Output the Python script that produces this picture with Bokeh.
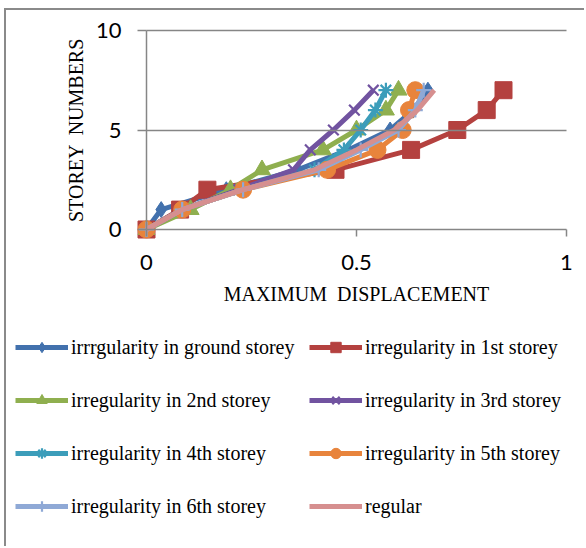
from bokeh.plotting import figure
from bokeh.models import Range1d, FixedTicker, Legend, LegendItem, LinearAxis
from bokeh.embed import file_html
from bokeh.resources import INLINE

storeys = [0, 1, 2, 3, 4, 5, 6, 7]
ground = [0, 0.035, 0.19, 0.36, 0.48, 0.58, 0.635, 0.67]
first = [0, 0.08, 0.145, 0.45, 0.63, 0.74, 0.81, 0.85]
second = [0, 0.105, 0.20, 0.275, 0.42, 0.50, 0.57, 0.60]
third = [0, 0.085, 0.22, 0.35, 0.39, 0.445, 0.495, 0.54]
fourth = [0, 0.085, 0.23, 0.40, 0.47, 0.51, 0.545, 0.57]
fifth = [0, 0.085, 0.23, 0.43, 0.55, 0.61, 0.625, 0.64]
sixth = [0, 0.085, 0.23, 0.41, 0.51, 0.60, 0.64, 0.66]
regular = [0, 0.085, 0.23, 0.40, 0.50, 0.59, 0.645, 0.685]

names = ["irrrgularity in ground storey", "irregularity in 1st storey",
         "irregularity in 2nd storey", "irregularity in 3rd storey",
         "irregularity in 4th storey", "irregularity in 5th storey",
         "irregularity in 6th storey", "regular"]
series = [ground, first, second, third, fourth, fifth, sixth, regular]
colors = ["#4271AD", "#B4413F", "#8FAF4F", "#7153A0", "#3C9DBA", "#E8843C", "#8FA9D6", "#D68F8F"]
markers = ["diamond", "square", "triangle", "x", "asterisk", "circle", "cross", None]
msizes = [16, 17, 17, 15, 15, 17, 15, 0]

x_ticks = [0, 0.5, 1]
y_ticks = [0, 5, 10]
grid_levels = [5, 10]

GRAY = "#868686"
W, H = 580, 538          # figure size (page offset 6, 10 from CSS margin+border)
OX, OY = 6, 10
X0_PX, X1_PX = 146, 566  # page px of x=0 and x=1
Y0_PX, Y10_PX = 229, 30  # page px of y=0 and y=10
sx = (X1_PX - X0_PX) / 1.0
sy = (Y0_PX - Y10_PX) / 10.0

p = figure(width=W, height=H, output_backend="svg", toolbar_location=None,
           x_axis_location=None, y_axis_location=None,
           x_range=Range1d((OX - X0_PX) / sx, (OX + W - X0_PX) / sx),
           y_range=Range1d((Y0_PX - (OY + H)) / sy, (Y0_PX - OY) / sy),
           min_border=0,
           background_fill_color="white", border_fill_color="white", outline_line_color=None,
           styles={"border-left": "2px solid #8a8a8a", "border-top": "2px solid #8a8a8a",
                   "margin-left": "4px", "margin-top": "8px"})
p.grid.visible = False

def style_axis(ax):
    ax.axis_line_color = GRAY
    ax.axis_line_width = 1.5
    ax.major_tick_line_color = GRAY
    ax.major_tick_line_width = 1.5
    ax.minor_tick_line_color = None
    ax.major_tick_in = 0
    ax.major_label_text_font = "Lato"
    ax.major_label_text_font_size = "22px"
    ax.major_label_text_color = "black"
    ax.axis_label_text_font = "Liberation Serif"
    ax.axis_label_text_font_size = "20px"
    ax.axis_label_text_font_style = "normal"
    ax.axis_label_text_color = "black"

# horizontal gridlines drawn as bare axes across 0..1
for lvl in grid_levels:
    g = LinearAxis(fixed_location=lvl, bounds=(0, 1), ticker=FixedTicker(ticks=[]),
                   major_tick_out=0, major_tick_in=0, minor_tick_out=0, minor_tick_in=0)
    style_axis(g)
    g.major_label_text_font_size = "0px"
    p.add_layout(g, "below")

xax = LinearAxis(fixed_location=0, bounds=(0, 1), ticker=FixedTicker(ticks=x_ticks))
style_axis(xax)
xax.major_label_overrides = {0: "0", 0.5: "0.5", 1: "1"}
xax.major_tick_out = 7
xax.major_label_standoff = 18
xax.axis_label = "MAXIMUM \u00a0DISPLACEMENT"
xax.axis_label_standoff = 10
p.add_layout(xax, "below")

yax = LinearAxis(fixed_location=0, bounds=(0, 10), ticker=FixedTicker(ticks=y_ticks))
style_axis(yax)
yax.major_tick_out = 9
yax.major_label_standoff = 16
yax.axis_label = "STOREY \u00a0NUMBERS"
yax.axis_label_standoff = 6
p.add_layout(yax, "left")

items = []
for name, ys, c, m, s in zip(names, series, colors, markers, msizes):
    rs = [p.line(ys, storeys, line_color=c, line_width=5)]
    if m is not None:
        if m in ("x", "asterisk", "cross"):
            rs.append(p.scatter(ys, storeys, marker=m, size=s, line_color=c, line_width=2.2,
                                fill_color=c))
        else:
            rs.append(p.scatter(ys, storeys, marker=m, size=s, line_color=c, fill_color=c))
    items.append(LegendItem(label=name, renderers=rs))

def make_legend(its, vx):
    return Legend(items=its, location=(vx, 29), orientation="vertical",
                  glyph_width=53, glyph_height=26, label_height=26, spacing=27,
                  label_standoff=3, padding=0, margin=0,
                  label_text_font="Liberation Serif", label_text_font_size="20px",
                  label_text_color="black", border_line_alpha=0, background_fill_alpha=0)

p.add_layout(make_legend(items[0::2], 15 - OX))
p.add_layout(make_legend(items[1::2], 309 - OX))

open("out.html", "w").write(file_html(p, INLINE))
